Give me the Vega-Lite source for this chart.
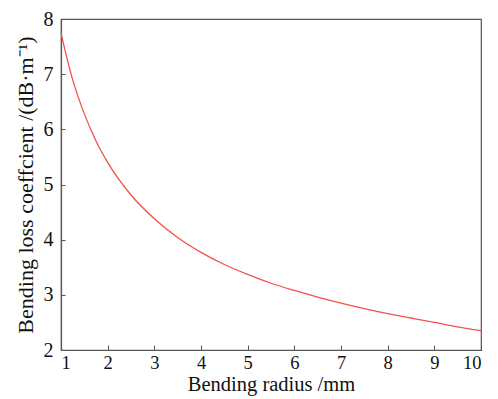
{
  "$schema": "https://vega.github.io/schema/vega-lite/v6.json",
  "width": 420,
  "height": 331,
  "autosize": {"type": "none"},
  "padding": {"left": 61, "top": 19, "right": 17, "bottom": 49},
  "background": "white",
  "config": {
    "view": {"stroke": "#555555", "strokeWidth": 1.2},
    "font": "Liberation Serif"
  },
  "data": {
    "values": [
      {"r": 1, "loss": 7.75},
      {"r": 1.125, "loss": 7.30},
      {"r": 1.25, "loss": 6.90},
      {"r": 1.375, "loss": 6.57},
      {"r": 1.5, "loss": 6.28},
      {"r": 1.75, "loss": 5.79},
      {"r": 2, "loss": 5.40},
      {"r": 2.5, "loss": 4.81},
      {"r": 3, "loss": 4.38},
      {"r": 3.5, "loss": 4.04},
      {"r": 4, "loss": 3.77},
      {"r": 4.5, "loss": 3.55},
      {"r": 5, "loss": 3.37},
      {"r": 5.5, "loss": 3.21},
      {"r": 6, "loss": 3.08},
      {"r": 6.5, "loss": 2.96},
      {"r": 7, "loss": 2.85},
      {"r": 7.5, "loss": 2.75},
      {"r": 8, "loss": 2.66},
      {"r": 8.5, "loss": 2.58},
      {"r": 9, "loss": 2.50},
      {"r": 9.5, "loss": 2.42},
      {"r": 10, "loss": 2.35}
    ]
  },
  "mark": {"type": "line", "color": "#f2524a", "strokeWidth": 1.3, "interpolate": "monotone", "clip": true},
  "encoding": {
    "x": {
      "field": "r",
      "type": "quantitative",
      "scale": {"domain": [1, 10], "nice": false, "zero": false},
      "axis": {
        "title": "Bending radius /mm",
        "values": [1, 2, 3, 4, 5, 6, 7, 8, 9, 10],
        "grid": false,
        "domainColor": "#555555",
        "domainWidth": 1.2,
        "tickColor": "#555555",
        "tickSize": -5,
        "labelPadding": 8,
        "labelFontSize": 18.5,
        "labelColor": "#111111",
        "labelFont": "Liberation Serif",
        "titleFont": "Liberation Serif",
        "titleFontSize": 20.5,
        "titleFontWeight": "normal",
        "titleColor": "#111111",
        "titlePadding": 3
      }
    },
    "y": {
      "field": "loss",
      "type": "quantitative",
      "scale": {"domain": [2, 8], "nice": false, "zero": false},
      "axis": {
        "title": "Bending loss coeffcient /(dB·m⁻¹)",
        "values": [2, 3, 4, 5, 6, 7, 8],
        "grid": false,
        "domainColor": "#555555",
        "domainWidth": 1.2,
        "tickColor": "#555555",
        "tickSize": -4,
        "labelPadding": 12,
        "labelFontSize": 20,
        "labelColor": "#111111",
        "labelFont": "Liberation Serif",
        "titleFont": "Liberation Serif",
        "titleFontSize": 22,
        "titleFontWeight": "normal",
        "titleColor": "#111111",
        "titlePadding": 6
      }
    }
  }
}
